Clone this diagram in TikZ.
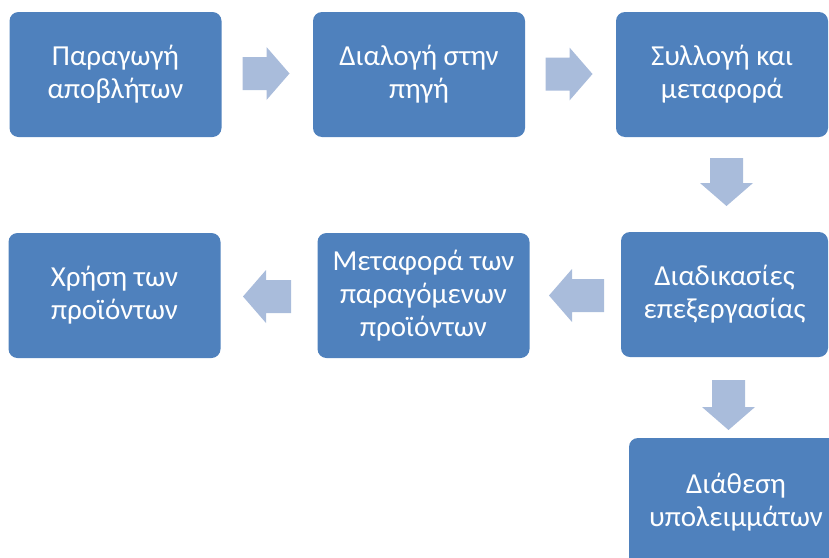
\documentclass[tikz,border=0pt]{standalone}
\usepackage{fontspec}
\setmainfont{Carlito}
\definecolor{boxblue}{RGB}{79,129,189}
\definecolor{arrowblue}{RGB}{169,188,219}
\begin{document}
\begin{tikzpicture}[x=1pt,y=-1pt,
  stagebox/.style={rectangle, rounded corners=9pt, fill=boxblue, text=white,
    minimum width=212pt, minimum height=125pt, align=center, inner sep=0pt,
    font=\fontsize{29}{33}\selectfont},
  pics/blockarrow/.style={code={
    \fill[arrowblue] (-#1/2,-16.5) -- (#1/2-23,-16.5) -- (#1/2-23,-26.5) -- (#1/2,0)
      -- (#1/2-23,26.5) -- (#1/2-23,16.5) -- (-#1/2,16.5) -- cycle;}}
]
\useasboundingbox (0,0) rectangle (829,557);
\begin{scope}
\clip (0,0) rectangle (829,557);
\node[stagebox] (b1) at (115.5,74.5) {Παραγωγή\\αποβλήτων};
\node[stagebox] (b2) at (419,74.5) {Διαλογή στην\\πηγή};
\node[stagebox] (b3) at (722,74.5) {Συλλογή και\\μεταφορά};
\node[stagebox, minimum width=207pt] (b4) at (724.5,294.5) {Διαδικασίες\\επεξεργασίας};
\node[stagebox] (b5) at (423.5,295.5) {Μεταφορά των\\παραγόμενων\\προϊόντων};
\node[stagebox] (b6) at (114.5,295.5) {Χρήση των\\προϊόντων};
\node[stagebox, minimum width=214pt, minimum height=128pt] (b7) at (736,502) {Διάθεση\\υπολειμμάτων};
\end{scope}
\pic at (266,73.5) {blockarrow=47};
\pic at (569,74) {blockarrow=47};
\pic[rotate=-90] at (726.5,182) {blockarrow=48};
\pic[rotate=180] at (576.5,295.5) {blockarrow=55};
\pic[rotate=180] at (267,296.5) {blockarrow=48};
\pic[rotate=-90] at (728.5,405) {blockarrow=50};
\end{tikzpicture}
\end{document}
